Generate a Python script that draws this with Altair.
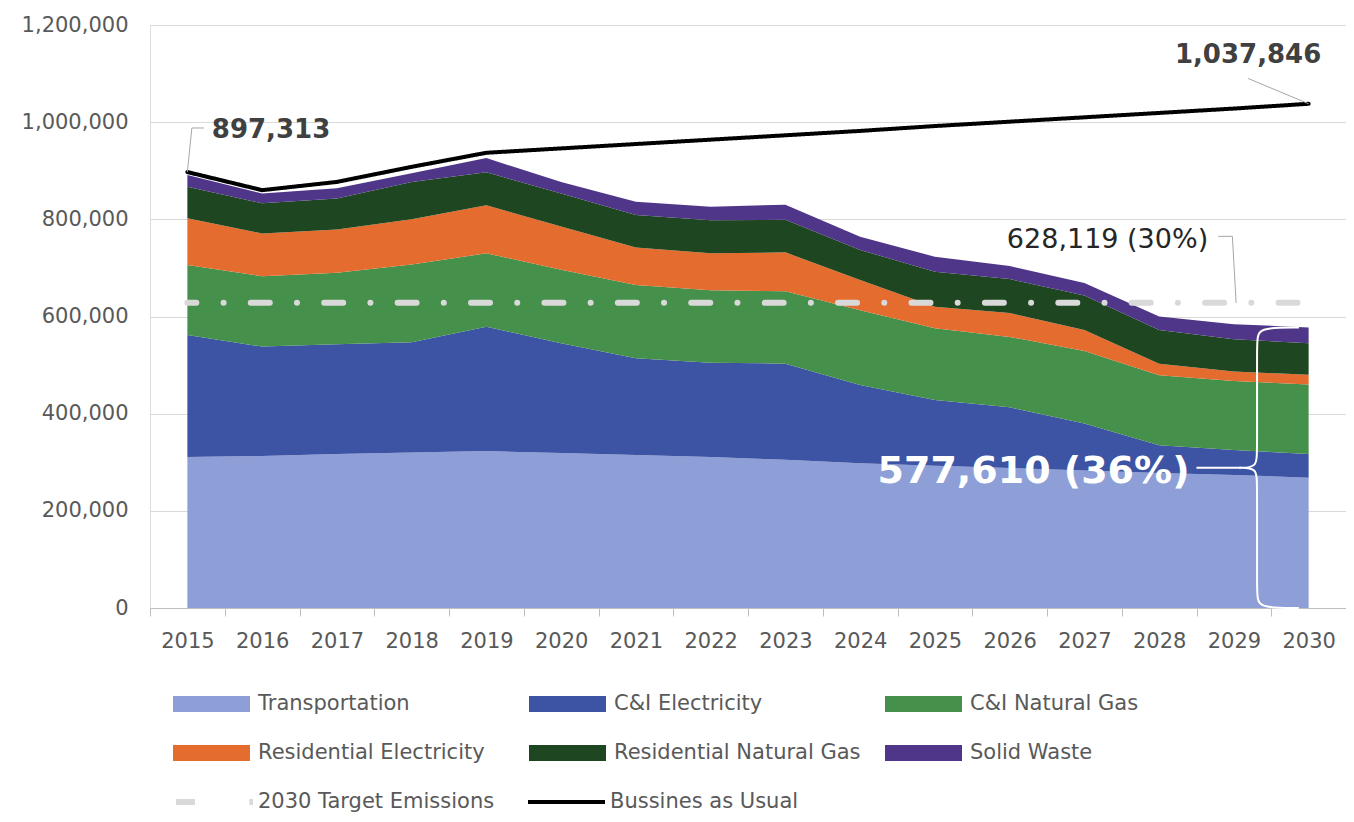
import altair as alt
import pandas as pd

# ---------------- data ----------------
years = list(range(2015, 2031))

series_names = [
    "Transportation",
    "C&I Electricity",
    "C&I Natural Gas",
    "Residential Electricity",
    "Residential Natural Gas",
    "Solid Waste",
]

transportation = [311000, 313000, 317000, 320000, 323000, 319000, 315000, 311000,
                  305000, 298000, 293000, 288000, 283000, 278000, 274000, 268000]
ci_electricity = [251000, 225000, 226000, 227000, 256000, 226000, 199000, 194000,
                  198000, 161000, 135000, 125000, 97000, 57000, 51000, 49000]
ci_natural_gas = [144000, 145000, 147000, 160000, 151000, 151000, 151000, 149000,
                  149000, 154000, 148000, 145000, 149000, 144000, 142000, 143000]
residential_electricity = [96000, 88000, 89000, 93000, 99000, 89000, 77000, 76000,
                           80000, 62000, 44000, 49000, 43000, 24000, 20000, 20000]
residential_natural_gas = [65000, 62000, 64000, 77000, 68000, 68000, 67000, 68000,
                           67000, 62000, 72000, 70000, 71000, 69000, 66000, 65000]
solid_waste = [24000, 20000, 21000, 18000, 29000, 24000, 27000, 28000,
               31000, 27000, 31000, 27000, 26000, 28000, 31000, 32610]

business_as_usual = [897313, 860000, 877000, 908000, 937000, 946000, 955000, 964000,
                     973000, 982000, 992000, 1001000, 1010000, 1019000, 1028000, 1037846]
target_2030 = 628119

target_label = "2030 Target Emissions"
bau_label = "Bussines as Usual"

series_values = [transportation, ci_electricity, ci_natural_gas,
                 residential_electricity, residential_natural_gas, solid_waste]
series_colors = ["#8E9FD7", "#3D54A4", "#45904A", "#E46C2F", "#1E4620", "#4F3689"]

y_ticks = [0, 200000, 400000, 600000, 800000, 1000000, 1200000]

# ---------------- tables ----------------
rows = []
for k, (name, vals) in enumerate(zip(series_names, series_values)):
    for yr, v in zip(years, vals):
        rows.append({"year": yr, "series": name, "value": v, "order": k})
area_df = pd.DataFrame(rows)

line_df = pd.DataFrame({
    "year": years + years,
    "line": [target_label] * len(years) + [bau_label] * len(years),
    "value": [target_2030] * len(years) + business_as_usual,
})

total_2030 = sum(vals[-1] for vals in series_values)
base_year_value = business_as_usual[0]
pct_target = round((1 - target_2030 / base_year_value) * 100)
pct_total = round((1 - total_2030 / base_year_value) * 100)

FONT = "DejaVu Sans"
W, H = 1196, 583
step = W / len(years)

x_scale = alt.Scale(domain=[years[0] - 0.5, years[-1] + 0.5], nice=False, zero=False)
y_scale = alt.Scale(domain=[y_ticks[0], y_ticks[-1]], nice=False)

# ticks sit between the years; each label is shifted half a step to its year
x_axis = alt.Axis(
    values=[yr - 0.5 for yr in years],
    labelExpr="format(datum.value + 0.5, 'd')",
    labelOffset=step / 2, labelFlush=False, labelOverlap=False, labelBound=False,
    grid=False, domainColor="#bfbfbf", tickColor="#bfbfbf", tickSize=8,
    labelPadding=14, labelFont=FONT, labelFontSize=21, labelColor="#595959", title=None,
)
y_axis = alt.Axis(
    values=y_ticks, format=",.0f", grid=True, gridColor="#d9d9d9", domain=False,
    ticks=False, labelPadding=22, labelFont=FONT, labelFontSize=21,
    labelColor="#595959", title=None,
)


def X(field):
    return alt.X(field, scale=x_scale, axis=x_axis)


def Y(field, **kw):
    return alt.Y(field, scale=y_scale, axis=y_axis, **kw)


fill_legend = alt.Legend(
    title=None, orient="none", legendX=23, legendY=669, columns=3, direction="horizontal",
    symbolType="M-1,-0.2078L1,-0.2078L1,0.2078L-1,0.2078Z", symbolSize=5929,
    symbolStrokeWidth=0, symbolOpacity=1, labelFont=FONT, labelFontSize=21,
    labelColor="#595959", labelLimit=400, labelOffset=8, clipHeight=20,
    rowPadding=28, columnPadding=24, gridAlign="all", padding=0,
)
line_legend = alt.Legend(
    title=None, orient="none", legendX=23, legendY=767, columns=3, direction="horizontal",
    symbolType="stroke", symbolSize=5929, symbolStrokeWidth=5,
    labelFont=FONT, labelFontSize=21, labelColor="#595959", labelLimit=400,
    labelOffset=2, clipHeight=20, columnPadding=30, gridAlign="all", padding=0,
)

areas = alt.Chart(area_df).mark_area(opacity=1).encode(
    x=X("year:Q"),
    y=Y("value:Q", stack="zero"),
    color=alt.Color("series:N", scale=alt.Scale(domain=series_names, range=series_colors),
                    legend=fill_legend),
    order=alt.Order("order:Q", sort="ascending"),
)

line_domain = [target_label, bau_label]
lines = alt.Chart(line_df).mark_line(strokeCap="round", strokeDashOffset=10).encode(
    x=X("year:Q"),
    y=Y("value:Q"),
    stroke=alt.Stroke("line:N", scale=alt.Scale(domain=line_domain, range=["#d9d9d9", "#000000"]),
                      legend=line_legend),
    strokeDash=alt.StrokeDash("line:N", scale=alt.Scale(domain=line_domain,
                                                        range=[[19, 27.2, 0.01, 27.2], [1, 0]]),
                              legend=line_legend),
    strokeWidth=alt.StrokeWidth("line:N", scale=alt.Scale(domain=line_domain, range=[6, 4]),
                                legend=None),
)

# ---------------- annotations (anchored to data values) ----------------
y0, yN = years[0], years[-1]
lead_top_897 = 988000
lead_top_1037 = 1090000
lead_top_628 = 765000
half = total_2030 / 2

gray_leaders = pd.DataFrame([
    {"x": y0, "y": base_year_value, "x2": y0 + 0.06, "y2": lead_top_897},
    {"x": y0 + 0.06, "y": lead_top_897, "x2": y0 + 0.22, "y2": lead_top_897},
    {"x": yN, "y": business_as_usual[-1], "x2": yN - 0.81, "y2": lead_top_1037},
    {"x": yN - 1.21, "y": lead_top_628, "x2": yN - 1.02, "y2": lead_top_628},
    {"x": yN - 1.02, "y": lead_top_628, "x2": yN - 0.97, "y2": target_2030},
])
gray_rules = alt.Chart(gray_leaders).mark_rule(color="#a6a6a6", strokeWidth=1).encode(
    x=X("x:Q"), y=Y("y:Q"), x2="x2:Q", y2="y2:Q"
)

white_conn = pd.DataFrame([{"x": yN - 1.5, "y": half, "x2": yN - 0.9, "y2": half}])
white_rule = alt.Chart(white_conn).mark_rule(color="white", strokeWidth=2).encode(
    x=X("x:Q"), y=Y("y:Q"), x2="x2:Q", y2="y2:Q"
)

brace_shape = [(0.87, 1.0), (0.31, 1.0), (0.31, 0.95), (0.31, 0.56), (0.31, 0.5),
               (0.07, 0.5), (0.07, 0.5), (0.07, 0.5), (0.31, 0.5), (0.31, 0.44),
               (0.31, 0.05), (0.31, 0.0), (0.87, 0.0)]
brace_df = pd.DataFrame([{"i": i, "x": yN - 1 + bx, "y": total_2030 * f}
                         for i, (bx, f) in enumerate(brace_shape)])
brace = alt.Chart(brace_df).mark_line(color="white", strokeWidth=2, interpolate="basis").encode(
    x=X("x:Q"), y=Y("y:Q"), order="i:Q"
)

t897 = alt.Chart(pd.DataFrame([{"x": y0 + 0.22, "y": lead_top_897,
                                "t": f"{base_year_value:,}"}])).mark_text(
    align="left", baseline="middle", dx=8, dy=2, font=FONT, fontSize=26,
    fontWeight="bold", color="#404040"
).encode(x=X("x:Q"), y=Y("y:Q"), text="t:N")

t1037 = alt.Chart(pd.DataFrame([{"x": yN - 0.81, "y": lead_top_1037,
                                 "t": f"{business_as_usual[-1]:,}"}])).mark_text(
    align="center", baseline="middle", dy=-23, font=FONT, fontSize=26,
    fontWeight="bold", color="#404040"
).encode(x=X("x:Q"), y=Y("y:Q"), text="t:N")

t628 = alt.Chart(pd.DataFrame([{"x": yN - 1.21, "y": lead_top_628,
                                "t": f"{target_2030:,} ({pct_target}%)"}])).mark_text(
    align="right", baseline="middle", dx=-10, dy=4, font=FONT, fontSize=27,
    color="#262626"
).encode(x=X("x:Q"), y=Y("y:Q"), text="t:N")

t577 = alt.Chart(pd.DataFrame([{"x": yN - 1.5, "y": half,
                                "t": f"{round(total_2030):,} ({pct_total}%)"}])).mark_text(
    align="right", baseline="middle", dx=-7, dy=4, font=FONT, fontSize=38,
    fontWeight="bold", color="white"
).encode(x=X("x:Q"), y=Y("y:Q"), text="t:N")

chart = alt.layer(
    areas, lines, gray_rules, white_rule, brace, t897, t1037, t628, t577
).properties(
    width=W, height=H,
    padding={"left": 13, "top": 6, "right": 0, "bottom": 0},
).configure_view(stroke=None).configure(font=FONT)

chart.save("out.html", embed_options={"renderer": "svg", "actions": False})
